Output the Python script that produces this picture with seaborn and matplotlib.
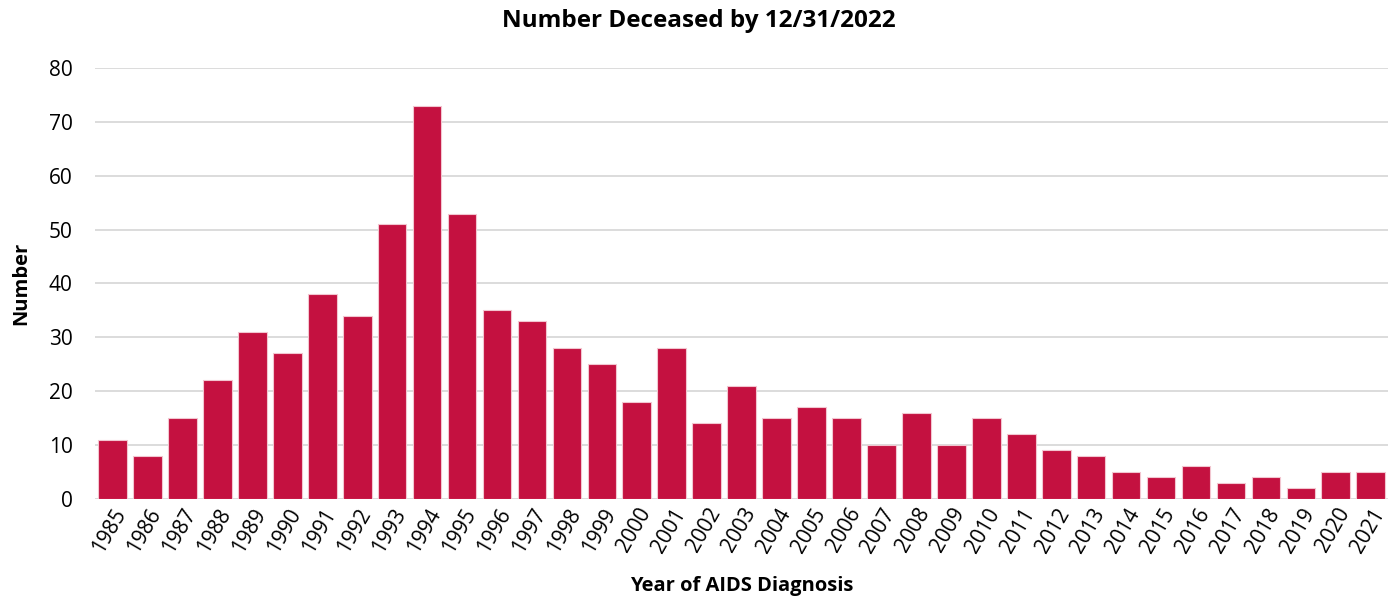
import matplotlib
matplotlib.use("Agg")
import matplotlib.pyplot as plt
import seaborn as sns
import pandas as pd

years = [str(y) for y in range(1985, 2022)]
deceased = [11, 8, 15, 22, 31, 27, 38, 34, 51, 73, 53, 35, 33, 28, 25, 18, 28, 14,
            21, 15, 17, 15, 10, 16, 10, 15, 12, 9, 8, 5, 4, 6, 3, 4, 2, 5, 5]

df = pd.DataFrame({"year": years, "number": deceased})

sns.set_theme(style="white")
plt.rcParams['font.family'] = ['Open Sans', 'DejaVu Sans']
plt.rcParams['text.color'] = 'black'
plt.rcParams['axes.labelcolor'] = 'black'
plt.rcParams['xtick.color'] = 'black'
plt.rcParams['ytick.color'] = 'black'

fig, ax = plt.subplots(figsize=(13.98, 6.09), dpi=100)
fig.subplots_adjust(left=0.068, right=0.993, top=0.888, bottom=0.181)

sns.barplot(data=df, x="year", y="number", color="#C41140", saturation=1,
            width=0.82, edgecolor="#F2C6D0", linewidth=0.8, ax=ax, zorder=3)

ax.set_ylim(0, 80)
ax.set_yticks(range(0, 81, 10))
ax.set_xlim(-0.5, len(years) - 0.5)
ax.yaxis.grid(True, color="#D9D9D9", linewidth=1.3, zorder=0)
ax.set_axisbelow(True)
for s in ax.spines.values():
    s.set_visible(False)

ax.tick_params(axis="y", labelsize=15, length=0, pad=16)
ax.tick_params(axis="x", labelsize=15, length=0, pad=4)
plt.setp(ax.get_xticklabels(), rotation=60, ha="right", rotation_mode="anchor")

# title is centred on the whole figure, not the axes
fig.suptitle("Number Deceased by 12/31/2022", x=0.5, y=0.985, va="top",
             fontsize=17.5, fontweight="bold")
ax.set_xlabel("Year of AIDS Diagnosis", fontsize=14.5, fontweight="bold", labelpad=14)
ax.set_ylabel("Number", fontsize=14.5, fontweight="bold", labelpad=13)

fig.savefig("out.png", dpi=100)
